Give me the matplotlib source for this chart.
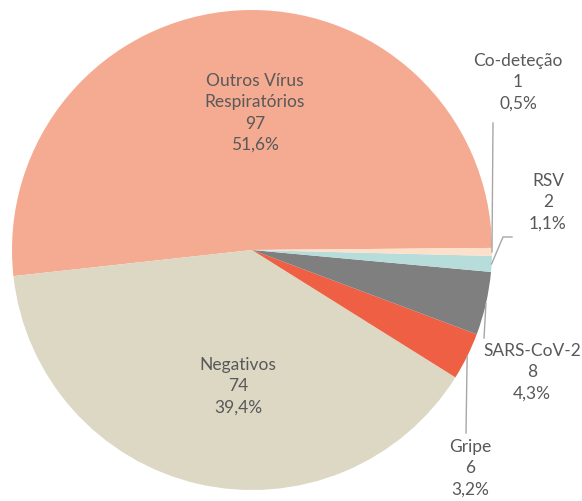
import matplotlib.pyplot as plt
import numpy as np

plt.rcParams['font.family'] = ['Lato', 'DejaVu Sans']

categorias = ['Outros Vírus\nRespiratórios', 'Negativos', 'Gripe', 'SARS-CoV-2', 'RSV', 'Co-deteção']
casos = [97, 74, 6, 8, 2, 1]
percentagens = ['51,6%', '39,4%', '3,2%', '4,3%', '1,1%', '0,5%']
cores = ['#F4AB92', '#DCD8C4', '#EE5F43', '#7F7F7F', '#B7DDDA', '#FCE0CA']

W, H = 582, 501
cx, cy, r = 252, 250, 240   # pixels, y from the top

# label centre (px, y from top) and leader line start
pos_label = [(255, 113), (238, 386), (470, 468), (532, 372), (548, 202), (518, 82)]
leader = [None, None, [(466, 433)], [(484, 338)], [(512, 237), (503, 237)], [(493, 123)]]

fig = plt.figure(figsize=(W / 100, H / 100), dpi=100)
ax = fig.add_axes([0, 0, 1, 1])
wedges, _ = ax.pie(casos, colors=cores, startangle=0.5, counterclock=True,
                   radius=r, center=(cx, H - cy),
                   wedgeprops=dict(linewidth=0))
ax.set_xlim(0, W)
ax.set_ylim(0, H)
ax.axis('off')

for i, w in enumerate(wedges):
    txt = categorias[i] + '\n' + str(casos[i]) + '\n' + percentagens[i]
    x, y = pos_label[i]
    ax.text(x, H - y, txt, ha='center', va='center', fontsize=12.5,
            color='#595959', linespacing=1.4)
    if leader[i] is not None:
        ang = np.deg2rad((w.theta1 + w.theta2) / 2)
        ex = cx + r * np.cos(ang)
        ey = cy - r * np.sin(ang)
        pts = leader[i] + [(ex, ey)]
        xs = [p[0] for p in pts]
        ys = [H - p[1] for p in pts]
        ax.plot(xs, ys, color='#A6A6A6', lw=1)

fig.savefig('out.png', dpi=100)
